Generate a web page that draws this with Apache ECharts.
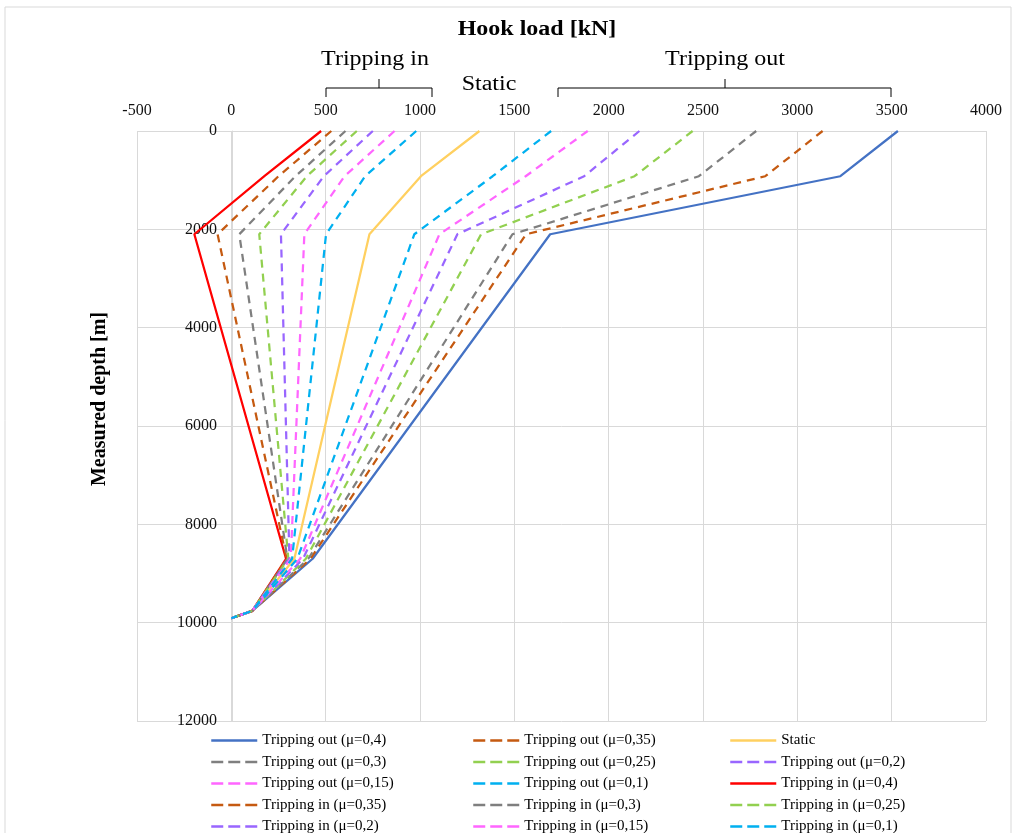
<!DOCTYPE html>
<html>
<head>
<meta charset="utf-8">
<script src="https://cdn.jsdelivr.net/npm/echarts@6/dist/echarts.min.js"></script>
<style>html,body{margin:0;padding:0;background:#fff}#c{width:1017px;height:833px}</style>
</head>
<body>
<div id="c"></div>
<script>
// Measured depth [m] at the profile break points
const depths = [0, 920, 2100, 8700, 9760, 9910];
// Hook load [kN] at those depths
const toutMu040 = [3533, 3228, 1690, 431, 111, 0];
const toutMu035 = [3134, 2830, 1562, 420, 111, 0];
const staticLoad = [1315, 1005, 732, 334, 111, 0];
const toutMu030 = [2782, 2478, 1490, 408, 111, 0];
const toutMu025 = [2445, 2137, 1324, 395, 111, 0];
const toutMu020 = [2163, 1870, 1198, 380, 111, 0];
const toutMu015 = [1889, 1560, 1103, 365, 111, 0];
const toutMu010 = [1695, 1385, 970, 350, 111, 0];
const tinMu040 = [476, 175, -196, 290, 111, 0];
const tinMu035 = [530, 250, -73, 293, 111, 0];
const tinMu030 = [605, 340, 42, 297, 111, 0];
const tinMu025 = [665, 400, 148, 302, 111, 0];
const tinMu020 = [750, 490, 263, 308, 111, 0];
const tinMu015 = [865, 600, 387, 315, 111, 0];
const tinMu010 = [980, 709, 502, 322, 111, 0];

const xTicks = {min: -500, max: 4000, interval: 500};
const yTicks = {min: 0, max: 12000, interval: 2000};

const seriesDefs = [
  ['Tripping out (μ=0,4)', toutMu040, '#4472C4', 'solid'],
  ['Tripping out (μ=0,35)', toutMu035, '#C55A11', 'dashed'],
  ['Static', staticLoad, '#FFD060', 'solid'],
  ['Tripping out (μ=0,3)', toutMu030, '#7F7F7F', 'dashed'],
  ['Tripping out (μ=0,25)', toutMu025, '#92D050', 'dashed'],
  ['Tripping out (μ=0,2)', toutMu020, '#9966FF', 'dashed'],
  ['Tripping out (μ=0,15)', toutMu015, '#FF66FF', 'dashed'],
  ['Tripping out (μ=0,1)', toutMu010, '#00B0F0', 'dashed'],
  ['Tripping in (μ=0,4)', tinMu040, '#FF0000', 'solid'],
  ['Tripping in (μ=0,35)', tinMu035, '#C55A11', 'dashed'],
  ['Tripping in (μ=0,3)', tinMu030, '#7F7F7F', 'dashed'],
  ['Tripping in (μ=0,25)', tinMu025, '#92D050', 'dashed'],
  ['Tripping in (μ=0,2)', tinMu020, '#9966FF', 'dashed'],
  ['Tripping in (μ=0,15)', tinMu015, '#FF66FF', 'dashed'],
  ['Tripping in (μ=0,1)', tinMu010, '#00B0F0', 'dashed']
];

const serif = 'Liberation Serif';
const series = seriesDefs.map(([name, vals, color, type]) => ({
  name: name,
  type: 'line',
  data: depths.map((d, i) => [vals[i], d]),
  symbol: 'none',
  showSymbol: false,
  animation: false,
  emphasis: {disabled: true},
  itemStyle: {color: color},
  lineStyle: {color: color, width: 2.25, type: type === 'solid' ? 'solid' : [8, 6]}
}));

const legendCols = [210, 472, 729];
const legends = legendCols.map((x, c) => ({
  orient: 'vertical',
  left: x,
  top: 733,
  height: 110,
  padding: 0,
  itemWidth: 46,
  itemHeight: 15,
  itemGap: 6.5,
  selectedMode: false,
  itemStyle: {opacity: 0},
  data: seriesDefs.filter((s, i) => i % 3 === c).map(s => ({
    name: s[0],
    lineStyle: {color: s[2], width: 2.5, type: s[3] === 'solid' ? 'solid' : [12, 5]}
  })),
  textStyle: {fontFamily: serif, fontSize: 15, color: '#000', lineHeight: 15}
}));

const txt = (x, y, s, size, bold, rot) => ({
  type: 'text', x: x, y: y, rotation: rot || 0, scaleX: rot ? 1 : 1.2, scaleY: 1,
  style: {text: s, font: (bold ? 'bold ' : '') + size + 'px "' + serif + '"', fill: '#000', align: 'center', verticalAlign: 'middle'}
});
const bracket = (x1, x2, xc) => [
  {type: 'polyline', shape: {points: [[x1, 97], [x1, 88], [x2, 88], [x2, 97]]}, style: {stroke: '#000', lineWidth: 1, fill: null}},
  {type: 'line', shape: {x1: xc, y1: 88, x2: xc, y2: 79}, style: {stroke: '#000', lineWidth: 1}}
];

const plain = v => String(v);
const chart = echarts.init(document.getElementById('c'), null, {renderer: 'canvas'});
chart.setOption({
  backgroundColor: '#fff',
  animation: false,
  grid: {left: 137, right: 31, top: 131, bottom: 112, containLabel: false},
  xAxis: {
    type: 'value', position: 'top', min: xTicks.min, max: xTicks.max, interval: xTicks.interval,
    axisLine: {show: false, onZero: false}, axisTick: {show: false},
    axisLabel: {fontFamily: serif, fontSize: 16, color: '#111', margin: 12, formatter: plain},
    splitLine: {show: true, lineStyle: {color: '#d9d9d9', width: 1}}
  },
  yAxis: {
    type: 'value', inverse: true, min: yTicks.min, max: yTicks.max, interval: yTicks.interval,
    offset: -95,
    axisLine: {show: true, onZero: false, lineStyle: {color: '#d9d9d9', width: 1}}, axisTick: {show: false},
    axisLabel: {fontFamily: serif, fontSize: 16, color: '#111', margin: 15, formatter: plain},
    splitLine: {show: true, lineStyle: {color: '#d9d9d9', width: 1}}
  },
  legend: legends,
  series: series,
  graphic: [
    {type: 'rect', shape: {x: 5, y: 7, width: 1006, height: 840}, style: {stroke: '#d9d9d9', fill: null, lineWidth: 1}, silent: true},
    txt(537, 29.5, 'Hook load [kN]', 20, true),
    txt(375, 60, 'Tripping in', 20, false),
    txt(489, 85, 'Static', 20, false),
    txt(725, 60, 'Tripping out', 20, false),
    ...bracket(326, 432, 379),
    ...bracket(558, 891, 725),
    txt(100, 399, 'Measured depth [m]', 20, true, Math.PI / 2)
  ]
});
</script>
</body>
</html>
